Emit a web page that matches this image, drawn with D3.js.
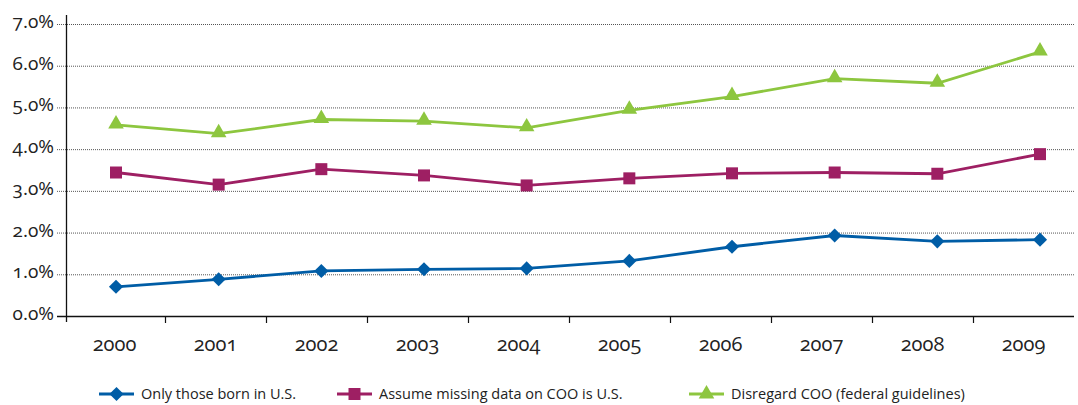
<!DOCTYPE html>
<html>
<head>
<meta charset="utf-8">
<script src="https://cdn.jsdelivr.net/npm/d3@7"></script>
<style>
  body { margin: 0; background: #fff; }
  #wrap { position: relative; width: 1078px; height: 405px; }
  #chart { position: absolute; left: 0; top: 0; }
  .num-label {
    position: absolute; white-space: nowrap; line-height: 1;
    font-family: "Open Sans", sans-serif; color: #222;
    font-variant-numeric: oldstyle-nums; font-feature-settings: "onum" 1;
  }
  .legend-text { font-family: "Open Sans", sans-serif; font-size: 14.5px; fill: #222; }
</style>
</head>
<body>
<div id="wrap"><svg id="chart" width="1078" height="405"></svg></div>
<script>
var years = ["2000", "2001", "2002", "2003", "2004", "2005", "2006", "2007", "2008", "2009"];
var bornUS = [0.70, 0.88, 1.08, 1.12, 1.14, 1.32, 1.66, 1.93, 1.79, 1.83];
var missingIsUS = [3.44, 3.15, 3.52, 3.37, 3.13, 3.30, 3.42, 3.44, 3.41, 3.88];
var disregardCOO = [4.58, 4.37, 4.71, 4.67, 4.51, 4.93, 5.26, 5.69, 5.58, 6.33];
var yTicks = [0, 1, 2, 3, 4, 5, 6, 7];
var seriesNames = ["Only those born in U.S.", "Assume missing data on COO is U.S.", "Disregard COO (federal guidelines)"];
var seriesColors = ["#005DA6", "#9E1F63", "#8DC63F"];
var seriesShapes = [d3.symbolSquare, d3.symbolSquare, d3.symbolTriangle];
var symbolRotate = [45, 0, 0];
var symbolSizes = [100, 144, 105];

var series = [bornUS, missingIsUS, disregardCOO];

var wrap = d3.select('#wrap');
var svg = d3.select('#chart');

var plotLeft = 66, plotRight = 1074, plotTop = 24, plotBottom = 316;

var xBand = d3.scaleBand()
    .domain(years)
    .range([64, plotRight]);

var xPoint = d3.scalePoint()
    .domain(years)
    .range([116, 1040]);

var yScale = d3.scaleLinear()
    .domain([0, 7])
    .range([plotBottom, plotTop]);

// dotted gridlines
svg.append('g')
    .selectAll('line')
    .data(yTicks.slice(1))
    .enter()
    .append('line')
    .attr('x1', 57)
    .attr('x2', plotRight)
    .attr('y1', function (d) { return yScale(d) + 0.5; })
    .attr('y2', function (d) { return yScale(d) + 0.5; })
    .attr('stroke', '#555')
    .attr('stroke-width', 1)
    .attr('stroke-dasharray', '1,1');

// y labels (html so the old style figures work)
wrap.selectAll('.y-label')
    .data(yTicks)
    .enter()
    .append('div')
    .attr('class', 'num-label y-label')
    .style('font-size', '19px')
    .style('right', (1078 - 54) + 'px')
    .style('top', function (d) { return (yScale(d) - 12) + 'px'; })
    .text(function (d) { return d.toFixed(1) + '%'; });

// y axis line
svg.append('line')
    .attr('x1', plotLeft + 0.5).attr('x2', plotLeft + 0.5)
    .attr('y1', 15).attr('y2', 322)
    .attr('stroke', '#111').attr('stroke-width', 1.3);

// x axis
svg.append('line')
    .attr('x1', 57).attr('x2', plotRight)
    .attr('y1', plotBottom + 0.5).attr('y2', plotBottom + 0.5)
    .attr('stroke', '#111').attr('stroke-width', 1.3);

svg.append('g')
    .selectAll('line')
    .data(years.slice(1))
    .enter()
    .append('line')
    .attr('x1', function (d) { return xBand(d) + 0.5; })
    .attr('x2', function (d) { return xBand(d) + 0.5; })
    .attr('y1', plotBottom)
    .attr('y2', plotBottom + 7)
    .attr('stroke', '#111')
    .attr('stroke-width', 1.2);

wrap.selectAll('.x-label')
    .data(years)
    .enter()
    .append('div')
    .attr('class', 'num-label x-label')
    .style('font-size', '20px')
    .style('width', xBand.bandwidth() + 'px')
    .style('text-align', 'center')
    .style('left', function (d) { return xBand(d) + 'px'; })
    .style('top', (plotBottom + 18) + 'px')
    .text(function (d) { return d; });

// lines and markers
var line = d3.line()
    .x(function (d, i) { return xPoint(years[i]); })
    .y(function (d) { return yScale(d); });

series.forEach(function (values, s) {
    svg.append('path')
        .datum(values)
        .attr('d', line)
        .attr('fill', 'none')
        .attr('stroke', seriesColors[s])
        .attr('stroke-width', 2.8);

    svg.append('g')
        .selectAll('path')
        .data(values)
        .enter()
        .append('path')
        .attr('transform', function (d, i) {
            var dy = s == 2 ? -1 : 0;
            return 'translate(' + xPoint(years[i]) + ',' + (yScale(d) + dy) + ') rotate(' + symbolRotate[s] + ')';
        })
        .attr('d', d3.symbol().type(seriesShapes[s]).size(symbolSizes[s]))
        .attr('fill', seriesColors[s]);
});

// legend
var legendX = [99, 337, 689];
var legend = svg.append('g')
    .selectAll('g')
    .data(seriesNames)
    .enter()
    .append('g')
    .attr('transform', function (d, i) { return 'translate(' + legendX[i] + ',394)'; });

legend.append('line')
    .attr('x1', 0).attr('x2', 35)
    .attr('stroke', function (d, i) { return seriesColors[i]; })
    .attr('stroke-width', 2.8);

legend.append('path')
    .attr('transform', function (d, i) { return 'translate(17.5,0) rotate(' + symbolRotate[i] + ')'; })
    .attr('d', function (d, i) { return d3.symbol().type(seriesShapes[i]).size(symbolSizes[i])(); })
    .attr('fill', function (d, i) { return seriesColors[i]; });

legend.append('text')
    .attr('class', 'legend-text')
    .attr('x', 42)
    .attr('dy', '0.35em')
    .text(function (d) { return d; });
</script>
</body>
</html>
